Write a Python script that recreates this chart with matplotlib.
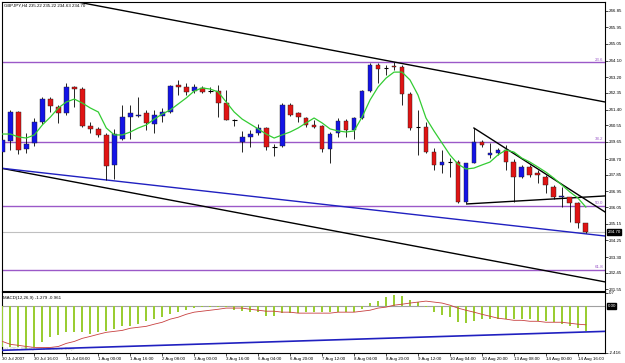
import numpy as np
import matplotlib.pyplot as plt
import matplotlib.transforms as mtransforms

plt.rcParams['font.family'] = ['Liberation Sans', 'DejaVu Sans']

# GBPJPY H4 bars, 30 Jul 2007 00:00 .. 14 Aug 2007 20:00
opens = [239.09, 239.70, 241.29, 239.26, 239.59, 240.74, 242.00, 241.56, 241.23, 242.66,
         242.55, 240.52, 240.36, 240.03, 238.38, 239.81, 241.01, 241.07, 241.23, 240.63,
         241.07, 241.29, 242.77, 242.66, 242.44, 242.61, 242.44, 242.44, 241.78, 240.85,
         239.64, 239.92, 240.14, 240.41, 239.37, 239.42, 241.67, 241.23, 240.96, 240.58,
         240.52, 239.26, 240.14, 240.79, 240.30, 240.96, 242.44, 243.87, 243.70, 243.81,
         243.76, 242.28, 240.46, 240.46, 239.09, 238.38, 238.54, 238.54, 236.35, 238.49,
         239.64, 238.93, 239.04, 239.20, 238.54, 237.72, 238.27, 237.94, 237.72, 237.17,
         236.62, 236.62, 236.29, 235.22]
highs = [239.86, 241.40, 241.34, 240.14, 240.96, 242.11, 242.11, 241.67, 242.88, 242.72,
         242.66, 240.74, 240.46, 240.14, 240.36, 241.67, 241.67, 242.11, 241.40, 241.40,
         241.51, 242.77, 243.05, 242.88, 242.83, 242.72, 242.66, 242.77, 242.50, 240.90,
         240.25, 240.30, 240.63, 240.46, 239.53, 241.78, 241.78, 241.29, 241.01, 240.85,
         240.58, 240.19, 240.96, 240.90, 241.01, 242.50, 243.98, 243.98, 243.87, 244.03,
         243.87, 242.39, 241.40, 240.74, 239.31, 239.20, 238.76, 238.65, 238.49, 240.41,
         239.75, 239.59, 239.31, 239.48, 238.71, 238.38, 238.38, 238.10, 237.83, 237.28,
         237.17, 236.62, 236.35, 235.22]
lows = [238.93, 239.20, 238.98, 239.04, 239.42, 240.63, 241.29, 240.69, 241.12, 241.56,
        240.46, 240.14, 239.92, 237.56, 237.61, 239.75, 239.81, 241.01, 240.30, 240.14,
        240.74, 241.23, 242.22, 242.22, 242.33, 242.33, 242.33, 241.01, 240.85, 240.52,
        239.09, 239.37, 240.03, 239.20, 238.87, 239.37, 241.07, 240.74, 240.46, 240.41,
        239.09, 238.49, 239.92, 239.92, 239.81, 240.90, 242.39, 242.88, 243.32, 243.59,
        241.67, 240.30, 238.93, 239.04, 238.10, 237.94, 237.72, 236.29, 236.29, 238.49,
        239.37, 238.76, 238.93, 238.10, 236.35, 237.66, 237.72, 237.39, 236.84, 236.51,
        236.07, 235.25, 234.92, 234.63]
closes = [239.75, 241.29, 239.20, 239.53, 240.74, 242.00, 241.62, 241.23, 242.66, 242.55,
          240.52, 240.36, 240.03, 238.32, 240.08, 241.01, 241.23, 241.12, 240.69, 241.12,
          241.29, 242.72, 242.66, 242.39, 242.66, 242.39, 242.44, 241.78, 240.85, 240.85,
          239.92, 240.08, 240.41, 239.37, 239.37, 241.67, 241.12, 241.01, 240.58, 240.46,
          239.26, 240.08, 240.79, 240.30, 240.96, 242.44, 243.87, 243.65, 243.70, 243.76,
          242.28, 240.41, 240.46, 239.09, 238.38, 238.54, 238.54, 236.35, 238.49, 239.64,
          239.48, 239.04, 239.20, 238.54, 237.72, 238.27, 237.83, 237.83, 237.28, 236.62,
          236.65, 236.29, 235.19, 234.70]

# moving average (green)
ma = [240.08, 240.08, 239.92, 239.86, 240.03, 240.58, 241.01, 241.51, 241.84, 242.00,
      241.78, 241.51, 241.29, 240.41, 240.03, 240.03, 240.19, 240.41, 240.58, 240.90,
      241.18, 241.40, 241.73, 242.06, 242.44, 242.61, 242.55, 242.39, 241.84, 241.29,
      240.90, 240.63, 240.36, 240.08, 239.86, 240.03, 240.19, 240.41, 240.69, 240.96,
      240.69, 240.36, 240.25, 240.19, 240.25, 241.01, 241.95, 242.66, 243.15, 243.48,
      243.48, 243.05, 242.22, 240.96, 240.25, 239.59, 238.93, 238.43, 238.16, 238.21,
      238.38, 238.54, 238.93, 239.20, 239.09, 238.76, 238.54, 238.27, 237.99, 237.66,
      237.28, 236.90, 236.57, 236.07]

# MACD(12,26,9)
macd_main = [-2.13, -2.13, -2.13, -2.23, -2.13, -1.87, -1.61, -1.51, -1.35, -1.35,
             -1.35, -1.45, -1.35, -1.30, -1.19, -1.04, -1.04, -0.93, -0.78, -0.67,
             -0.57, -0.42, -0.31, -0.21, -0.10, -0.05, -0.05, -0.05, -0.02, -0.21,
             -0.26, -0.31, -0.31, -0.52, -0.52, -0.36, -0.36, -0.36, -0.31, -0.31,
             -0.31, -0.31, -0.31, -0.31, -0.31, -0.16, 0.16, 0.26, 0.47, 0.57,
             0.52, 0.31, 0.21, -0.02, -0.31, -0.47, -0.57, -0.83, -0.88, -0.78,
             -0.67, -0.67, -0.67, -0.67, -0.67, -0.67, -0.67, -0.78, -0.78, -0.83,
             -0.93, -1.04, -1.14, -1.279]
macd_signal = [-1.82, -1.97, -2.02, -2.08, -2.13, -2.13, -2.13, -2.08, -1.92, -1.82,
               -1.66, -1.56, -1.45, -1.35, -1.30, -1.25, -1.14, -1.09, -1.04, -0.93,
               -0.83, -0.67, -0.57, -0.42, -0.31, -0.26, -0.21, -0.16, -0.10, -0.10,
               -0.10, -0.16, -0.21, -0.26, -0.26, -0.31, -0.31, -0.36, -0.36, -0.36,
               -0.36, -0.36, -0.31, -0.31, -0.31, -0.26, -0.21, -0.10, -0.05, 0.05,
               0.10, 0.16, 0.21, 0.26, 0.21, 0.16, 0.05, -0.10, -0.21, -0.31,
               -0.42, -0.52, -0.62, -0.67, -0.73, -0.73, -0.78, -0.78, -0.83, -0.83,
               -0.83, -0.88, -0.93, -0.961]

time_labels = ["30 Jul 2007", "30 Jul 16:00", "31 Jul 08:00", "1 Aug 00:00", "1 Aug 16:00",
               "2 Aug 08:00", "3 Aug 00:00", "3 Aug 16:00", "6 Aug 04:00", "6 Aug 20:00",
               "7 Aug 12:00", "8 Aug 04:00", "8 Aug 20:00", "9 Aug 12:00", "10 Aug 04:00",
               "10 Aug 20:00", "13 Aug 08:00", "14 Aug 00:00", "14 Aug 16:00"]
price_ticks = [246.85, 245.95, 245.05, 244.10, 243.20, 242.35, 241.40, 240.55, 239.65,
               238.70, 237.85, 236.95, 236.05, 235.15, 234.25, 233.30, 232.45, 231.55]

# fibonacci retracement
fib_high, fib_low = 251.05, 221.25
fib_levels = [23.6, 38.2, 50.0, 61.8]

# trend lines: (bar index, price)
trend_upper = [(8.1, 247.44), (75.4, 241.84)]
trend_lower = [(-0.25, 238.21), (75.4, 231.96)]
trend_blue = [(-0.25, 238.21), (75.4, 234.48)]
tri_top = [(59, 240.41), (75.4, 235.80)]
tri_bottom = [(58.1, 236.24), (75.4, 236.68)]
macd_trend = [(-0.25, -2.28), (75.4, -1.30)]

W, H = 625, 363


def rect(l, t, r, b):
    return [l / W, 1 - b / H, (r - l) / W, (b - t) / H]


fig = plt.figure(figsize=(W / 100, H / 100), dpi=100)
ax = fig.add_axes(rect(2, 2, 605, 291))
ax2 = fig.add_axes(rect(2, 292, 605, 353), sharex=ax)

n = len(closes)
x = np.arange(n)
fs = 3.2
purple = '#9b59c8'

# fib lines
for lv in fib_levels:
    p = fib_high - lv / 100 * (fib_high - fib_low)
    ax.axhline(p, color=purple, lw=1.0, zorder=1)
    ax.text(75.2, p + 0.04, f"{lv:.1f}", color=purple, fontsize=fs, ha='right', va='bottom')

# bid line
ax.axhline(closes[-1], color='#c0c0c0', lw=0.8, zorder=1)

# trend lines
for seg, col in [(trend_upper, 'black'), (trend_lower, 'black'), (trend_blue, '#2020c0'),
                 (tri_top, 'black'), (tri_bottom, 'black')]:
    xs, ys = zip(*seg)
    ax.plot(xs, ys, color=col, lw=1.0, zorder=2)

# candles
for i in range(n):
    o, h, l, c = opens[i], highs[i], lows[i], closes[i]
    ax.vlines(i, l, h, color='black', lw=0.6, zorder=3)
    if abs(c - o) < 1e-6:
        ax.hlines(o, i - 0.3, i + 0.3, color='black', lw=0.8, zorder=4)
    else:
        col = '#1414e6' if c > o else '#e01414'
        ax.bar(i, c - o, bottom=o, width=0.6, color=col, edgecolor='#202020', lw=0.3, zorder=4)

ax.plot(x, ma, color='#33cc33', lw=0.9, zorder=5)

ax.set_xlim(-0.05, 75.4)
ax.set_ylim(231.46, 247.33)
ax.yaxis.tick_right()
ax.set_yticks(price_ticks)
ax.set_yticklabels([f"{t:.2f}" for t in price_ticks])
ax.tick_params(axis='y', length=2, width=0.5, labelsize=fs, pad=1)
ax.tick_params(axis='x', bottom=False, labelbottom=False)

trans = mtransforms.blended_transform_factory(ax.transAxes, ax.transData)
ax.text(1.004, closes[-1], f"{closes[-1]:.2f}", transform=trans, fontsize=fs, color='white',
        va='center', ha='left',
        bbox=dict(boxstyle='square,pad=0.15', fc='black', ec='black'))
ax.text(0.004, 0.995, f"GBPJPY,H4 {opens[-1]:.2f} {highs[-1]:.2f} {lows[-1]:.2f} {closes[-1]:.2f}",
        transform=ax.transAxes, fontsize=fs, va='top', ha='left')

# MACD window
ax2.bar(x, macd_main, width=0.25, color='#9acd32', zorder=3)
ax2.plot(x, macd_signal, color='#c84040', lw=0.6, zorder=4)
ax2.axhline(0, color='#a0a0a0', lw=0.8, zorder=1)
xs, ys = zip(*macd_trend)
ax2.plot(xs, ys, color='#2020c0', lw=1.2, zorder=5)
ax2.set_ylim(-2.39, 0.73)
ax2.yaxis.tick_right()
ax2.set_yticks([0.7, -2.416])
ax2.set_yticklabels(["0.7", "-2.416"])
ax2.tick_params(axis='y', length=2, width=0.5, labelsize=fs, pad=1)
trans2 = mtransforms.blended_transform_factory(ax2.transAxes, ax2.transData)
ax2.text(1.004, 0, "0.00", transform=trans2, fontsize=fs, color='white', va='center', ha='left',
         bbox=dict(boxstyle='square,pad=0.15', fc='black', ec='black'))
ax2.text(0.002, 0.93, f"MACD(12,26,9) {macd_main[-1]:.3f} {macd_signal[-1]:.3f}",
         transform=ax2.transAxes, fontsize=fs, va='top', ha='left')
ax2.text(0.002, 0.03, "(c) 2007, MetaQuotes Software Corp.", transform=ax2.transAxes,
         fontsize=fs, color='#b0b0b0', va='bottom', ha='left')

ticks = np.arange(0, n, 4)
ax2.set_xticks(ticks)
ax2.set_xticklabels(time_labels, ha='left')
ax2.tick_params(axis='x', length=2, width=0.5, labelsize=fs, pad=1)

for a in (ax, ax2):
    for s in a.spines.values():
        s.set_linewidth(0.8)
        s.set_color('black')

fig.savefig('out.png', dpi=100, facecolor='white')
